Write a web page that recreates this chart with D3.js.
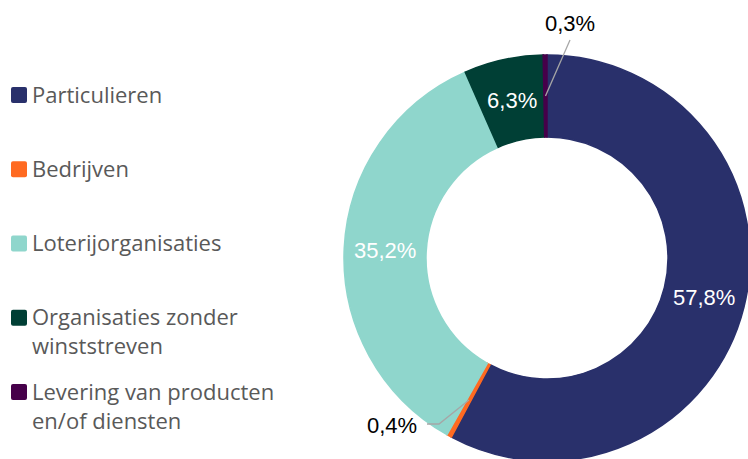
<!DOCTYPE html>
<html lang="nl">
<head>
<meta charset="utf-8">
<script src="https://cdn.jsdelivr.net/npm/d3@7"></script>
<style>
  html, body { margin: 0; padding: 0; background: #fff; }
  svg { display: block; }
</style>
</head>
<body>
<script>
  const categories = ['Particulieren', 'Bedrijven', 'Loterijorganisaties', 'Organisaties zonder winststreven', 'Levering van producten en/of diensten']
  const legendLines = [['Particulieren'], ['Bedrijven'], ['Loterijorganisaties'], ['Organisaties zonder', 'winststreven'], ['Levering van producten', 'en/of diensten']]
  const values = [57.8, 0.4, 35.2, 6.3, 0.3]
  const colors = ['#29306b', '#ff6a21', '#8fd6cc', '#003f35', '#46004a']

  const w = 748
  const h = 459
  const cx = 547, cy = 258
  const outerR = 203, innerR = 121

  const svg = d3.select('body').append('svg')
    .attr('width', w)
    .attr('height', h)

  const fmt = v => d3.format('.1f')(v).replace('.', ',') + '%'

  const pie = d3.pie().sort(null).value(d => d)
  const arcs = pie(values)
  const arc = d3.arc().innerRadius(innerR).outerRadius(outerR)
  const labelArc = d3.arc().innerRadius(162).outerRadius(162)

  const g = svg.append('g').attr('transform', `translate(${cx},${cy})`)

  g.selectAll('path')
    .data(arcs)
    .enter()
    .append('path')
    .attr('d', arc)
    .attr('fill', (d, i) => colors[i])
    .attr('stroke', (d, i) => colors[i])
    .attr('stroke-width', 1.5)
    .attr('stroke-linejoin', 'miter')

  // small slices get a label outside with a leader line
  const outside = {
    1: {text: [-155, 167], line: [[-120, 166], [-108, 166]]},
    4: {text: [23, -235], line: [[23, -218]]}
  }

  arcs.forEach((d, i) => {
    const c = labelArc.centroid(d)
    if (outside[i]) {
      const o = outside[i]
      const pts = [c].concat(o.line.slice().reverse())
      g.append('path')
        .attr('d', d3.line()(pts))
        .attr('fill', 'none')
        .attr('stroke', '#a6a6a6')
        .attr('stroke-width', 1.3)
      g.append('text')
        .attr('x', o.text[0])
        .attr('y', o.text[1])
        .attr('dy', '0.35em')
        .attr('text-anchor', 'middle')
        .style('font-family', '"Liberation Sans", Arial, sans-serif')
        .style('font-size', '22px')
        .attr('fill', '#000')
        .text(fmt(values[i]))
    } else {
      g.append('text')
        .attr('x', c[0])
        .attr('y', c[1])
        .attr('dy', '0.35em')
        .attr('text-anchor', 'middle')
        .style('font-family', '"Liberation Sans", Arial, sans-serif')
        .style('font-size', '22px')
        .attr('fill', '#fff')
        .text(fmt(values[i]))
    }
  })

  // legend
  const legendY = d3.scalePoint().domain(categories).range([95, 392])
  const legend = svg.selectAll('g.leg')
    .data(categories)
    .enter()
    .append('g')
    .attr('class', 'leg')
    .attr('transform', d => `translate(11,${legendY(d)})`)

  legend.append('rect')
    .attr('x', 0)
    .attr('y', -8)
    .attr('width', 16)
    .attr('height', 16)
    .attr('rx', 2)
    .attr('fill', (d, i) => colors[i])

  legend.append('text')
    .attr('x', 21)
    .attr('y', 0)
    .style('font-family', '"Open Sans", sans-serif')
    .style('font-size', '22px')
    .attr('fill', '#595959')
    .each(function(d, i) {
      const t = d3.select(this)
      legendLines[i].forEach((line, j) => {
        t.append('tspan')
          .attr('x', 21)
          .attr('dy', j === 0 ? '0.35em' : '29px')
          .text(line)
      })
    })
</script>
</body>
</html>
